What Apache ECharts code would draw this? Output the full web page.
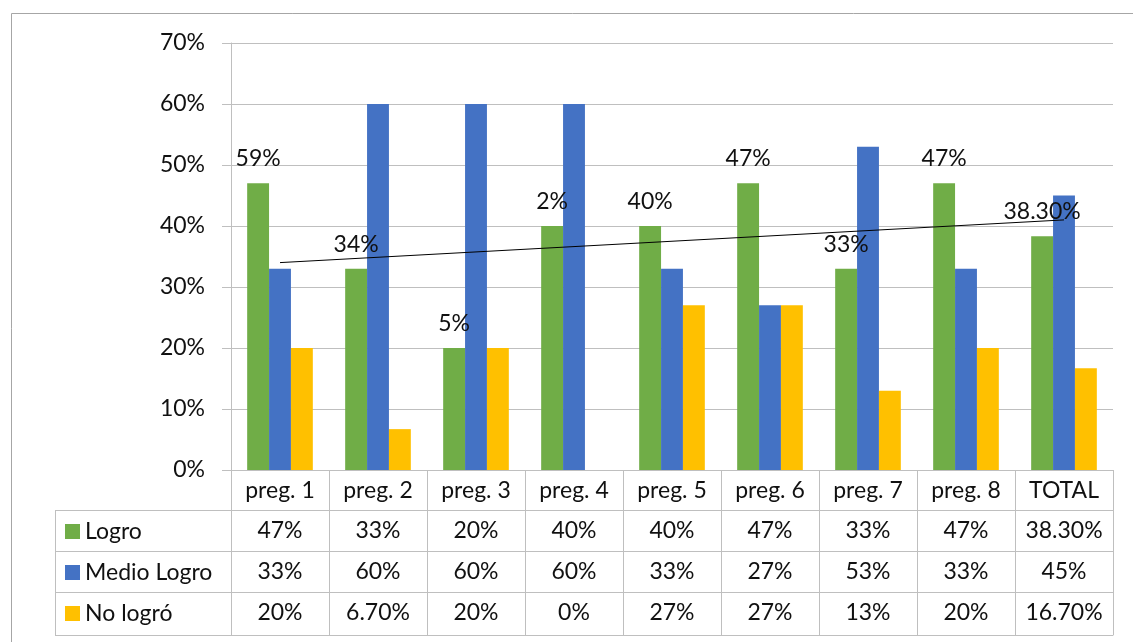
<!DOCTYPE html>
<html>
<head>
<meta charset="utf-8">
<script src="https://cdn.jsdelivr.net/npm/echarts@6/dist/echarts.min.js"></script>
<style>
html,body{margin:0;padding:0;background:#fff;}
#c{width:1133px;height:642px;}
</style>
</head>
<body>
<div id="c"></div>
<script>
const categories = ['preg. 1','preg. 2','preg. 3','preg. 4','preg. 5','preg. 6','preg. 7','preg. 8','TOTAL'];
const logro = [47,33,20,40,40,47,33,47,38.3];
const medioLogro = [33,60,60,60,33,27,53,33,45];
const noLogro = [20,6.7,20,0,27,27,13,20,16.7];
const logroLabels = ['59%','34%','5%','2%','40%','47%','33%','47%','38.30%'];
const trendStart = 34;
const trendEnd = 41;
const yTicks = [0,10,20,30,40,50,60,70];

const FONT = 'Lato';
const FS = 23;
const GRID = '#bfbfbf';
const TXT = '#111';
function fmt(v){ return Number.isInteger(v) ? v + '%' : v.toFixed(2) + '%'; }

const trend = categories.map((c,i)=> i===0 ? trendStart : (i===categories.length-1 ? trendEnd : null));

const rowAxis = (offset, arr, len) => ({
  type:'category', data:categories, position:'bottom', offset:offset,
  axisLine:{show:true, lineStyle:{color:GRID, width:1}},
  axisTick:{show:true, interval:0, length:len, lineStyle:{color:GRID, width:1}},
  axisLabel:{show: !!arr, interval:0, hideOverlap:false, margin:9, fontFamily:FONT, fontSize:FS, color:TXT, lineHeight:FS,
    formatter:(v,i)=> arr ? arr[i] : ''},
  splitLine:{show:false}
});

const chart = echarts.init(document.getElementById('c'), null, {renderer:'canvas'});
chart.setOption({
  animation:false,
  backgroundColor:'#fff',
  textStyle:{fontFamily:FONT},
  grid:{left:231, right:20, top:43, bottom:172, containLabel:false},
  legend:{
    orient:'vertical', left:65, top:520, padding:0, itemWidth:15, itemHeight:15, itemGap:41-FS,
    icon:'rect', selectedMode:false,
    textStyle:{fontFamily:FONT, fontSize:FS, color:TXT, lineHeight:FS},
    data:['Logro','Medio Logro','No logró']
  },
  xAxis:[
    rowAxis(0, categories, 40),
    rowAxis(40, logro.map(fmt), 41),
    rowAxis(81, medioLogro.map(fmt), 41),
    rowAxis(122, noLogro.map(fmt), 43),
    rowAxis(165, null, 0)
  ],
  yAxis:{
    type:'value', min:yTicks[0], max:yTicks[yTicks.length-1], interval:10,
    axisLine:{show:true, lineStyle:{color:GRID}},
    axisTick:{show:true, length:9, lineStyle:{color:GRID}},
    axisLabel:{formatter:'{value}%', fontFamily:FONT, fontSize:FS, color:TXT, margin:26},
    splitLine:{show:true, lineStyle:{color:GRID, width:1}}
  },
  series:[
    {name:'Logro', type:'bar', data:logro, barGap:'0%', barCategoryGap:'33%',
      itemStyle:{color:'#70AD47'},
      label:{show:true, position:'top', distance:13, fontFamily:FONT, fontSize:FS, color:TXT,
        formatter:(p)=>logroLabels[p.dataIndex]}},
    {name:'Medio Logro', type:'bar', data:medioLogro, itemStyle:{color:'#4472C4'}},
    {name:'No logró', type:'bar', data:noLogro, itemStyle:{color:'#FFC000'}},
    {name:'trend', type:'line', data:trend, connectNulls:true, symbol:'none',
      lineStyle:{color:'#000', width:1}, z:5, silent:true}
  ],
  graphic:[
    {type:'rect', shape:{x:11.5, y:13.5, width:1130, height:640}, style:{fill:'none', stroke:'#a6a6a6', lineWidth:1}, silent:true},
    {type:'line', shape:{x1:55, y1:510.5, x2:231, y2:510.5}, style:{stroke:GRID, lineWidth:1}},
    {type:'line', shape:{x1:55, y1:551.5, x2:231, y2:551.5}, style:{stroke:GRID, lineWidth:1}},
    {type:'line', shape:{x1:55, y1:592.5, x2:231, y2:592.5}, style:{stroke:GRID, lineWidth:1}},
    {type:'line', shape:{x1:55, y1:635.5, x2:231, y2:635.5}, style:{stroke:GRID, lineWidth:1}},
    {type:'line', shape:{x1:55.5, y1:510, x2:55.5, y2:636}, style:{stroke:GRID, lineWidth:1}}
  ]
});
</script>
</body>
</html>
